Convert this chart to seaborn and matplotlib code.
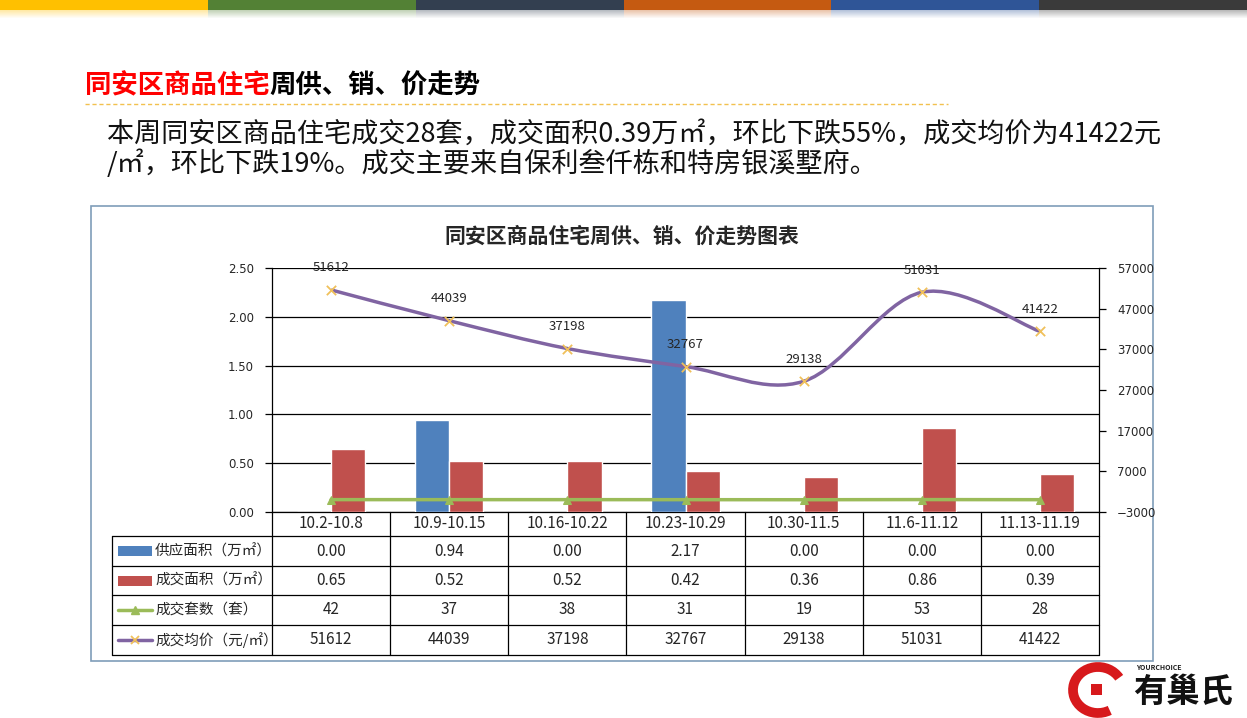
import numpy as np
import pandas as pd
import matplotlib
matplotlib.use('Agg')
import matplotlib.pyplot as plt
import seaborn as sns
from matplotlib.path import Path
from matplotlib.patches import PathPatch, Rectangle, Arc

# 数据
weeks = ['10.2-10.8', '10.9-10.15', '10.16-10.22', '10.23-10.29',
         '10.30-11.5', '11.6-11.12', '11.13-11.19']
supply_area = [0.00, 0.94, 0.00, 2.17, 0.00, 0.00, 0.00]
deal_area = [0.65, 0.52, 0.52, 0.42, 0.36, 0.86, 0.39]
deal_units = [42, 37, 38, 31, 19, 53, 28]
avg_price = [51612, 44039, 37198, 32767, 29138, 51031, 41422]

row_labels = ['供应面积（万㎡）', '成交面积（万㎡）', '成交套数（套）', '成交均价（元/㎡）']
left_ticks = [0.0, 0.5, 1.0, 1.5, 2.0, 2.5]
right_ticks = [-3000, 7000, 17000, 27000, 37000, 47000, 57000]

BLUE = '#4F81BD'
RED = '#C0504D'
GREEN = '#9BBB59'
PURPLE = '#8064A2'
MARK = '#F0C05A'

sns.set_style('white')
plt.rcParams['font.family'] = ['Noto Sans CJK SC', 'DejaVu Sans']

W, H = 1247, 718
fig = plt.figure(figsize=(W / 100, H / 100), dpi=100)

# 背景层，像素坐标
bg = fig.add_axes([0, 0, 1, 1])
bg.set_xlim(0, W)
bg.set_ylim(H, 0)
bg.axis('off')

# 顶部彩条
bar_cols = ['#FFC000', '#538135', '#333F50', '#C55A11', '#2F5597', '#3A3A3A']
seg = W / 6
for i, c in enumerate(bar_cols):
    bg.add_patch(Rectangle((i * seg, 0), seg, 10, color=c, lw=0))
    for k in range(8):
        bg.add_patch(Rectangle((i * seg, 10 + k), seg, 1, color=c, lw=0,
                               alpha=0.35 * (1 - k / 8)))

# 标题
t1 = bg.text(85, 86, '同安区商品住宅', color='#FF0000', fontsize=19,
             fontweight='bold', va='center', ha='left')
bg.annotate('周供、销、价走势', xy=(1, 0.5), xycoords=t1, color='black',
            fontsize=19, fontweight='bold', va='center', ha='left')
bg.plot([85, 948], [104, 104], color='#F2C14E', lw=1, ls=(0, (3, 2)))

bg.text(107, 134, '本周同安区商品住宅成交28套，成交面积0.39万㎡，环比下跌55%，成交均价为41422元',
        fontsize=19.5, va='center', ha='left', color='#111111')
bg.text(107, 164, '/㎡，环比下跌19%。成交主要来自保利叁仟栋和特房银溪墅府。',
        fontsize=19.5, va='center', ha='left', color='#111111')

# 图表外框
bg.add_patch(Rectangle((91, 206), 1062, 455, fill=False, ec='#7F9DB9', lw=1.2))
bg.text(622, 236, '同安区商品住宅周供、销、价走势图表', fontsize=15,
        fontweight='bold', ha='center', va='center')

# 绘图区
x0, x1, y_top, y_bot = 272, 1099, 268, 512
ax = fig.add_axes([x0 / W, 1 - y_bot / H, (x1 - x0) / W, (y_bot - y_top) / H])
ax.set_facecolor('none')

df_bar = pd.DataFrame({
    'week': weeks * 2,
    'area': supply_area + deal_area,
    'type': ['供应'] * 7 + ['成交'] * 7,
})
sns.barplot(data=df_bar, x='week', y='area', hue='type', palette=[BLUE, RED],
            width=0.58, gap=0, saturation=1, legend=False, ax=ax, zorder=3)
ax.set_xlim(-0.5, 6.5)
ax.set_ylim(0, 2.5)
ax.set_yticks(left_ticks)
ax.set_yticklabels([f'{v:.2f}' for v in left_ticks], fontsize=8.5,
                   family='DejaVu Sans')
ax.set_xticks([])
ax.set_xlabel('')
ax.set_ylabel('')
for v in left_ticks:
    ax.axhline(v, color='black', lw=0.9, zorder=1)
for s in ['top', 'right']:
    ax.spines[s].set_visible(False)
for s in ['left', 'bottom']:
    ax.spines[s].set_color('black')
    ax.spines[s].set_linewidth(0.9)
ax.tick_params(axis='y', which='both', direction='out', length=5, width=0.9,
               color='black', pad=8, left=True)

ax2 = ax.twinx()
ax2.set_ylim(-3000, 57000)
ax2.set_yticks(right_ticks)
ax2.set_yticklabels([str(v).replace('-', '−') for v in right_ticks], fontsize=8.5,
                    family='DejaVu Sans')
for s in ['top', 'left', 'bottom']:
    ax2.spines[s].set_visible(False)
ax2.spines['right'].set_color('black')
ax2.spines['right'].set_linewidth(0.9)
ax2.tick_params(axis='y', direction='out', length=5, width=0.9, color='black',
                pad=8, right=True)

xs = np.arange(len(weeks))
df_line = pd.DataFrame({'x': xs, 'units': deal_units, 'price': avg_price})
sns.lineplot(data=df_line, x='x', y='units', color=GREEN, lw=2.5, marker='^',
             markersize=6, markeredgecolor=GREEN, ax=ax2, zorder=4)

# 平滑曲线（Catmull-Rom 转贝塞尔）
pts = np.column_stack([xs, np.array(avg_price, dtype=float)])
verts = [pts[0]]
codes = [Path.MOVETO]
for i in range(len(pts) - 1):
    p_prev = pts[i - 1] if i > 0 else pts[i]
    p_next2 = pts[i + 2] if i + 2 < len(pts) else pts[i + 1]
    c1 = pts[i] + (pts[i + 1] - p_prev) / 6
    c2 = pts[i + 1] - (p_next2 - pts[i]) / 6
    verts += [c1, c2, pts[i + 1]]
    codes += [Path.CURVE4] * 3
ax2.add_patch(PathPatch(Path(verts, codes), fill=False, ec=PURPLE, lw=2.5,
                        zorder=5))
sns.scatterplot(data=df_line, x='x', y='price', marker='x', color=MARK, s=45,
                linewidth=1.3, ax=ax2, zorder=6)
for xi, v in zip(xs, avg_price):
    ax2.annotate(str(v), (xi, v), textcoords='offset points', xytext=(0, 16),
                 ha='center', va='center', fontsize=9.5)
ax2.set_xlabel('')
ax2.set_ylabel('')
ax2.set_xlim(-0.5, 6.5)

# 数据表
col_w = (x1 - x0) / 7
rows_y = [512, 536, 566, 595, 625, 655]
lx = 112
for i in range(8):
    bg.plot([x0 + i * col_w] * 2, [512, 655], color='black', lw=0.9)
bg.plot([lx, lx], [536, 655], color='black', lw=0.9)
for y in rows_y[1:]:
    bg.plot([lx, x1], [y, y], color='black', lw=0.9)
for i, w in enumerate(weeks):
    bg.text(x0 + (i + 0.5) * col_w, 524, w, ha='center', va='center', fontsize=11)

table_rows = [
    [f'{v:.2f}' for v in supply_area],
    [f'{v:.2f}' for v in deal_area],
    [str(v) for v in deal_units],
    [str(v) for v in avg_price],
]
for r, vals in enumerate(table_rows):
    yc = (rows_y[r + 1] + rows_y[r + 2]) / 2
    for i, v in enumerate(vals):
        bg.text(x0 + (i + 0.5) * col_w, yc, v, ha='center', va='center', fontsize=11)
    bg.text(155, yc, row_labels[r], ha='left', va='center', fontsize=10.5)
    if r == 0:
        bg.add_patch(Rectangle((118, yc - 5), 34, 10, color=BLUE, lw=0))
    elif r == 1:
        bg.add_patch(Rectangle((118, yc - 5), 34, 10, color=RED, lw=0))
    elif r == 2:
        bg.plot([118, 152], [yc, yc], color=GREEN, lw=2.5)
        bg.plot([135], [yc], marker='^', color=GREEN, ms=6)
    else:
        bg.plot([118, 152], [yc, yc], color=PURPLE, lw=2.5)
        bg.plot([135], [yc], marker='x', color=MARK, ms=6, mew=1.3)

# 标志
bg.add_patch(Arc((1098, 690), 50, 46, theta1=60, theta2=330, color='#D7191C', lw=7))
bg.add_patch(Rectangle((1091, 684), 11, 11, color='#D7191C', lw=0))
bg.text(1136, 668, 'YOURCHOICE', fontsize=5, style='italic', fontweight='bold',
        ha='left', va='center', color='#222222')
bg.text(1133, 692, '有巢氏', fontsize=24, fontweight='bold', ha='left',
        va='center', color='#111111')

fig.savefig('out.png', dpi=100)
